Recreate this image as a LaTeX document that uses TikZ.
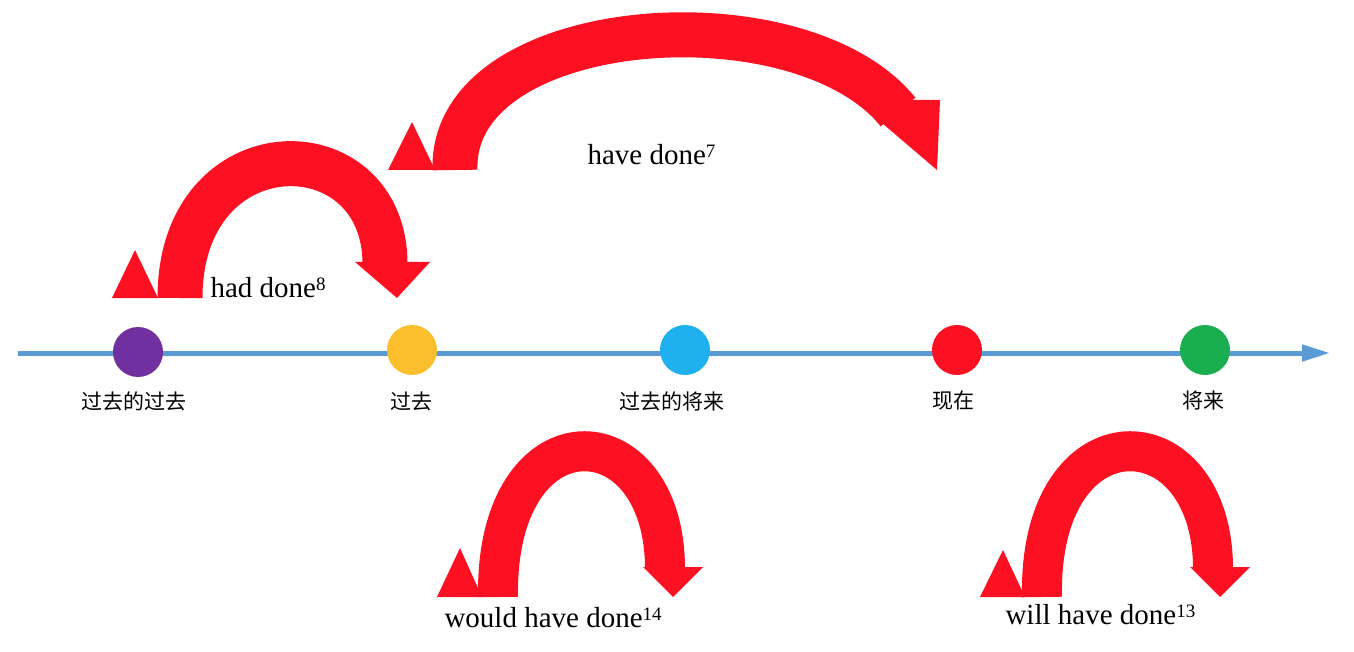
\documentclass[tikz,border=0pt]{standalone}
\usepackage{fontspec}
\setmainfont{Liberation Serif}
\newfontfamily\cjk{Noto Sans CJK SC}
\usetikzlibrary{arrows.meta}
\definecolor{rd}{HTML}{FC1021}
\definecolor{ax}{HTML}{5B9BD5}
\begin{document}
\begin{tikzpicture}[x=1pt,y=-1pt,
  arc/.style={draw=rd,line width=45pt},
  tri/.style={fill=rd},
  dot/.style={circle,minimum size=50pt,inner sep=0pt},
  cn/.style={font=\cjk\fontsize{21}{24}\selectfont},
  en/.style={font=\fontsize{29}{32}\selectfont},
  sup/.style={font=\fontsize{19}{20}\selectfont}]
\useasboundingbox (0,0) rectangle (1354,652);
% timeline
\coordinate (s) at (18,353); \coordinate (e) at (1330,353);
\draw[ax,line width=5pt,-{Triangle[length=28pt,width=16pt]}] (s) -- (e);
\node[dot,fill={rgb,255:red,112;green,48;blue,160}] (p1) at (138,352) {};
\node[dot,fill={rgb,255:red,251;green,191;blue,45}] (p2) at (412,350) {};
\node[dot,fill={rgb,255:red,31;green,176;blue,239}] (p3) at (685,350) {};
\node[dot,fill=rd] (p4) at (957,350) {};
\node[dot,fill={rgb,255:red,26;green,174;blue,80}] (p5) at (1205,350) {};
\node[cn] (l1) at (134,401) {过去的过去};
\node[cn] (l2) at (411,401) {过去};
\node[cn] (l3) at (672,401) {过去的将来};
\node[cn] (l4) at (953,401) {现在};
\node[cn] (l5) at (1203,401) {将来};
% had done
\draw[arc] (180,298) .. controls (180,125) and (385,125) .. (385,264);
\fill[tri] (355,262) -- (430,262) -- (397,298) -- cycle;
\fill[tri] (112,298) -- (135,250) -- (158,298) -- cycle;
\node[en,anchor=base west] (t1) at (207,298) {had done\raisebox{7pt}{\fontsize{19}{20}\selectfont 8}};
% have done
\draw[arc] (455,170) .. controls (450,15) and (800,-10) .. (898,112);
\fill[tri] (855,100) -- (940,100) -- (937,170) -- cycle;
\fill[tri] (388,170) -- (412,122) -- (435,170) -- cycle;
\node[en,anchor=base west] (t2) at (584,165) {have done\raisebox{7pt}{\fontsize{19}{20}\selectfont 7}};
% would have done
\draw[arc,line width=40pt] (498,597) .. controls (495,405) and (665,410) .. (665,569);
\fill[tri] (643,567) -- (703,567) -- (673,597) -- cycle;
\fill[tri] (437,597) -- (460,548) -- (482,597) -- cycle;
\node[en,anchor=base west] (t3) at (441,627) {would have done\raisebox{7pt}{\fontsize{19}{20}\selectfont 14}};
% will have done
\draw[arc,line width=40pt] (1042,597) .. controls (1038,405) and (1213,410) .. (1213,569);
\fill[tri] (1190,567) -- (1250,567) -- (1220,597) -- cycle;
\fill[tri] (980,597) -- (1003,550) -- (1025,597) -- cycle;
\node[en,anchor=base west] (t4) at (1002,624) {will have done\raisebox{7pt}{\fontsize{19}{20}\selectfont 13}};
\end{tikzpicture}
\end{document}
